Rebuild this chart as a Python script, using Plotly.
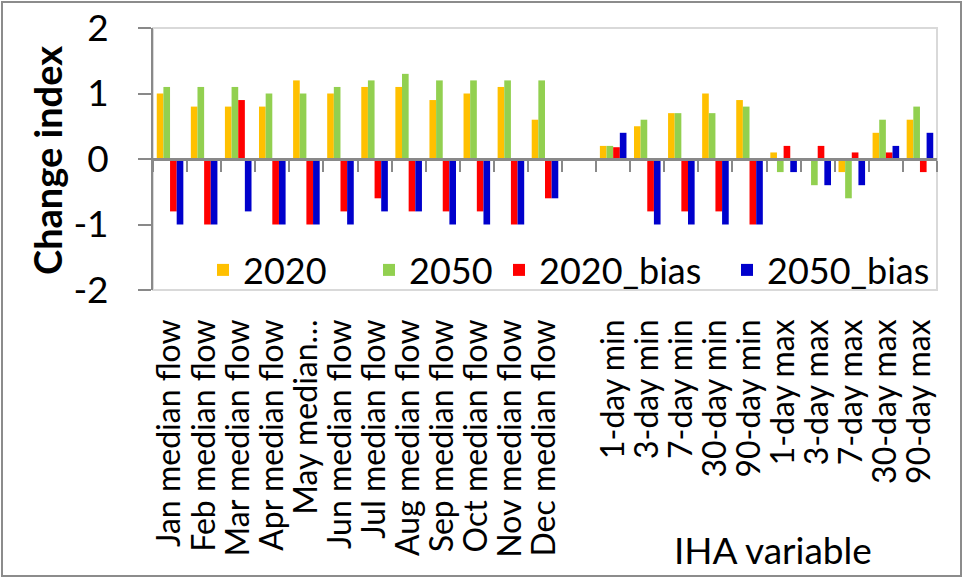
import plotly.graph_objects as go

# Categories: monthly median flows, a spacer slot, then extreme-flow IHA variables
categories = [
    "Jan median flow", "Feb median flow", "Mar median flow", "Apr median flow",
    "May median…", "Jun median flow", "Jul median flow", "Aug median flow",
    "Sep median flow", "Oct median flow", "Nov median flow", "Dec median flow",
    " ",
    "1-day min", "3-day min", "7-day min", "30-day min", "90-day min",
    "1-day max", "3-day max", "7-day max", "30-day max", "90-day max",
]

v2020 = [1.0, 0.8, 0.8, 0.8, 1.2, 1.0, 1.1, 1.1, 0.9, 1.0, 1.1, 0.6,
         None,
         0.2, 0.5, 0.7, 1.0, 0.9, 0.1, 0.0, -0.2, 0.4, 0.6]
v2050 = [1.1, 1.1, 1.1, 1.0, 1.0, 1.1, 1.2, 1.3, 1.2, 1.2, 1.2, 1.2,
         None,
         0.2, 0.6, 0.7, 0.7, 0.8, -0.2, -0.4, -0.6, 0.6, 0.8]
v2020_bias = [-0.8, -1.0, 0.9, -1.0, -1.0, -0.8, -0.6, -0.8, -0.8, -0.8, -1.0, -0.6,
              None,
              0.18, -0.8, -0.8, -0.8, -1.0, 0.2, 0.2, 0.1, 0.1, -0.2]
v2050_bias = [-1.0, -1.0, -0.8, -1.0, -1.0, -1.0, -0.8, -0.8, -1.0, -1.0, -1.0, -0.6,
              None,
              0.4, -1.0, -1.0, -1.0, -1.0, -0.2, -0.4, -0.4, 0.2, 0.4]

y_tick_values = [-2, -1, 0, 1, 2]
y_tick_labels = ["-2", "-1", "0", "1", "2"]

series = [
    ("2020", v2020, "#FFC000", "legend"),
    ("2050", v2050, "#92D050", "legend2"),
    ("2020_bias", v2020_bias, "#FF0000", "legend3"),
    ("2050_bias", v2050_bias, "#0000CC", "legend4"),
]

FONT = "Lato"
AXIS_GREY = "#898989"

# plot area in pixels (figure is 963 x 577)
L, R, T, B = 153, 937, 28, 290
W, H = 963, 577
pw, ph = R - L, B - T


def px_x(x):
    return (x - L) / pw


def px_y(y):
    return (B - y) / ph


fig = go.Figure()
for name, vals, color, leg in series:
    fig.add_trace(go.Bar(
        x=categories, y=vals, name=name, marker_color=color,
        marker_line_width=0, legend=leg,
    ))

# helper trace carrying the categories onto the zero-crossing axis
fig.add_trace(go.Scatter(
    x=categories, y=[0] * len(categories), xaxis="x2", mode="markers",
    marker=dict(opacity=0, size=1), hoverinfo="skip", showlegend=False,
))

legend_common = dict(
    orientation="h", yanchor="middle", xanchor="left",
    bgcolor="rgba(0,0,0,0)", font=dict(family=FONT, size=36, color="black"),
    borderwidth=0,
)
legend_px = [203, 369, 499, 727]

fig.update_layout(
    width=W, height=H,
    margin=dict(l=L, r=W - R, t=T, b=H - B, pad=0, autoexpand=False),
    paper_bgcolor="white", plot_bgcolor="white",
    barmode="group", bargap=0.22, bargroupgap=0,
    font=dict(family=FONT, color="black"),
    showlegend=True,
    legend=dict(x=px_x(legend_px[0]), y=px_y(270), **legend_common),
    legend2=dict(x=px_x(legend_px[1]), y=px_y(270), **legend_common),
    legend3=dict(x=px_x(legend_px[2]), y=px_y(270), **legend_common),
    legend4=dict(x=px_x(legend_px[3]), y=px_y(270), **legend_common),
    xaxis=dict(
        type="category", categoryorder="array", categoryarray=categories,
        range=[-0.5, len(categories) - 0.5], automargin=False,
        tickmode="array", tickvals=categories, ticktext=categories,
        showline=False, ticks="", showgrid=False, zeroline=False,
        tickangle=-90, tickfont=dict(family=FONT, size=32, color="black"),
        ticklabelstandoff=22,
    ),
    xaxis2=dict(
        type="category", categoryorder="array", categoryarray=categories,
        range=[-0.5, len(categories) - 0.5], automargin=False,
        overlaying="x", anchor="free", position=0.5, side="bottom",
        showline=True, linecolor=AXIS_GREY, linewidth=2.5,
        ticks="outside", tickson="boundaries", ticklen=11, tickwidth=2,
        tickcolor=AXIS_GREY, showticklabels=False, showgrid=False,
    ),
    yaxis=dict(
        range=[-2, 2], automargin=False,
        tickmode="array", tickvals=y_tick_values, ticktext=y_tick_labels,
        showline=True, linecolor=AXIS_GREY, linewidth=2,
        ticks="outside", ticklen=13, tickwidth=2, tickcolor=AXIS_GREY,
        showgrid=False, zeroline=False,
        tickfont=dict(family=FONT, size=37, color="black"),
        ticklabelstandoff=22,
    ),
    shapes=[
        # plot area border
        dict(type="rect", xref="paper", yref="paper", x0=0, x1=1, y0=0, y1=1,
             line=dict(color="#D9D9D9", width=2), layer="below"),
        # chart area border
        dict(type="rect", xref="paper", yref="paper",
             x0=px_x(2), x1=px_x(961), y0=px_y(576), y1=px_y(2),
             line=dict(color="#8C8C8C", width=2), layer="below"),
    ],
    annotations=[
        dict(text="<b>Change index</b>", xref="paper", yref="paper",
             x=px_x(47), y=px_y(160), xanchor="center", yanchor="middle",
             textangle=-90, showarrow=False,
             font=dict(family=FONT, size=38, color="black")),
        dict(text="IHA variable", xref="paper", yref="paper",
             x=px_x(773), y=px_y(549), xanchor="center", yanchor="middle",
             showarrow=False, font=dict(family=FONT, size=37, color="black")),
    ],
)

fig.write_html("out.html")
